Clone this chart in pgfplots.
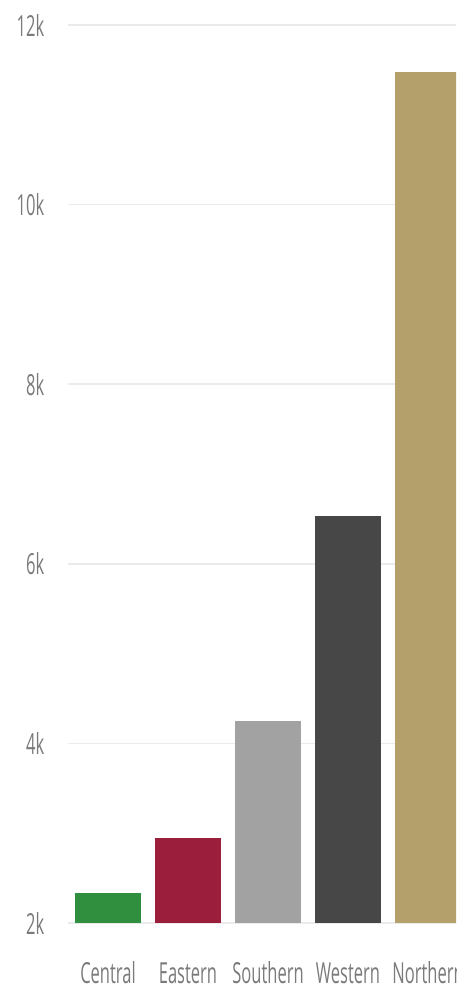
\documentclass[border=0pt]{standalone}
\usepackage{pgfplots}
\pgfplotsset{compat=1.18}
\usepackage{fontspec}
\setmainfont{Open Sans}
\definecolor{cCentral}{HTML}{2F8F3F}
\definecolor{cEastern}{HTML}{9B1F3D}
\definecolor{cSouthern}{HTML}{A2A2A2}
\definecolor{cWestern}{HTML}{474747}
\definecolor{cNorthern}{HTML}{B3A06A}
\definecolor{gridc}{HTML}{EBEBEB}
\definecolor{labc}{HTML}{7A7A7A}
\begin{document}
\begin{tikzpicture}
\useasboundingbox (0,0) rectangle (456pt,992pt);
\clip (0,0) rectangle (456pt,992pt);
\begin{scope}[overlay]
\begin{axis}[
  at={(68pt,69pt)}, anchor=south west,
  scale only axis, width=400pt, height=898pt,
  xmin=-0.5, xmax=4.5, ymin=2000, ymax=12000,
  ybar, bar width=66pt, bar shift=0pt,
  xtick={0,1,2,3,4},
  xticklabels={Central,Eastern,Southern,Western,Northern},
  ytick={2000,4000,6000,8000,10000,12000},
  yticklabels={2k,4k,6k,8k,10k,12k},
  ymajorgrids, grid style={gridc, line width=1.5pt},
  axis line style={draw=none},
  major tick length=0pt,
  tick label style={font=\fontsize{29}{31}\selectfont, text=labc, xscale=0.57},
  xticklabel style={yshift=-37pt, text height=20pt, text depth=6pt},
  yticklabel style={xshift=-38pt},
]
\addplot[fill=cCentral, draw=none] coordinates {(0,2330)};
\addplot[fill=cEastern, draw=none] coordinates {(1,2950)};
\addplot[fill=cSouthern, draw=none] coordinates {(2,4250)};
\addplot[fill=cWestern, draw=none] coordinates {(3,6530)};
\addplot[fill=cNorthern, draw=none] coordinates {(4,11480)};
\end{axis}
\end{scope}
\end{tikzpicture}
\end{document}
